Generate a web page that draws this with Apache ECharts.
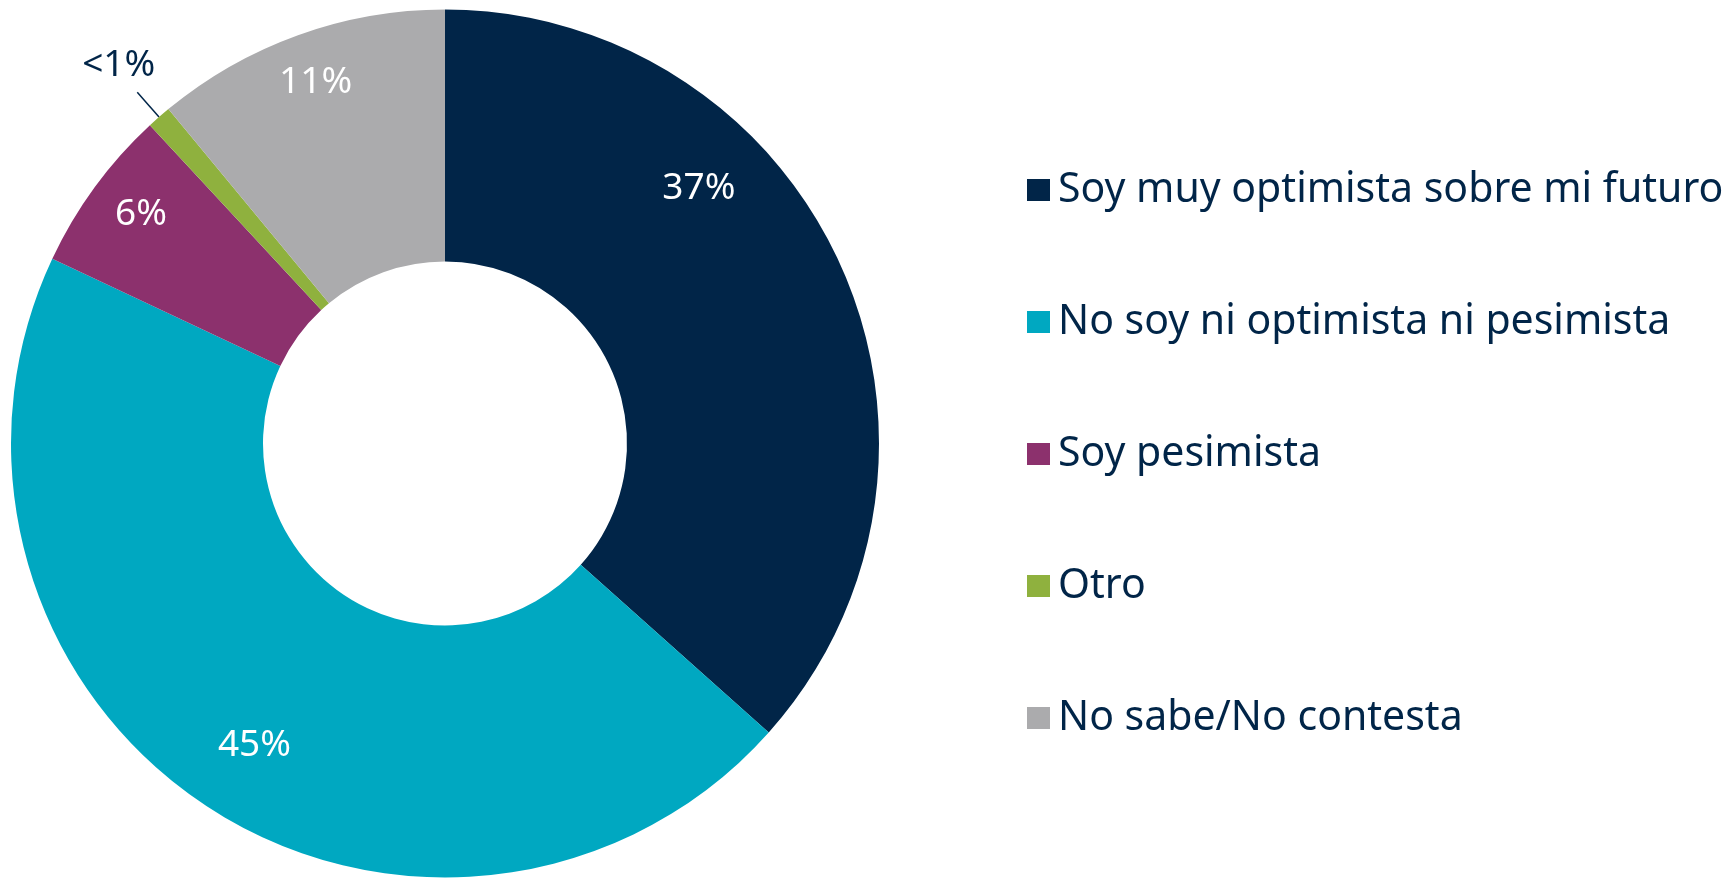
<!DOCTYPE html>
<html>
<head>
<meta charset="utf-8">
<script src="https://cdn.jsdelivr.net/npm/echarts@6/dist/echarts.min.js"></script>
<style>html,body{margin:0;padding:0;background:#fff}#c{width:1734px;height:880px}</style>
</head>
<body>
<div id="c"></div>
<script>
const categories = ['Soy muy optimista sobre mi futuro', 'No soy ni optimista ni pesimista', 'Soy pesimista', 'Otro', 'No sabe/No contesta'];
const values = [36.6, 45.4, 6.1, 0.9, 11.0];
const labelTexts = ['37%', '45%', '6%', '<1%', '11%'];

const colors = ['#012548', '#00A8C1', '#8C316D', '#8FB13E', '#ABABAD'];
const navy = '#012548';
const FONT = 'Noto Sans';
// label nudges (style) from default inside position
const labelOffsets = [[-30, -128], [-19, 43], [-53, -45], null, [-24, -68.5]];

const chart = echarts.init(document.getElementById('c'), null, {renderer: 'canvas'});
const data = categories.map((name, i) => {
  const item = {name: name, value: values[i], itemStyle: {color: colors[i]}};
  if (i === 3) {
    item.label = {position: 'outside', color: navy, distanceToLabelLine: -18, lineHeight: 54};
    item.labelLine = {show: true, length: 33, length2: 0, lineStyle: {color: navy, width: 1.5}};
  }
  return item;
});
chart.setOption({
  animation: false,
  color: colors,
  legend: {
    orient: 'vertical',
    left: 1022,
    top: 164.5,
    itemWidth: 23,
    itemHeight: 22,
    itemGap: 91,
    icon: 'rect',
    data: categories,
    textStyle: {fontFamily: FONT, fontSize: 41, color: navy, padding: [0, 0, 0, 3]}
  },
  series: [{
    type: 'pie',
    center: [445, 443.5],
    radius: [182, 434],
    startAngle: 90,
    clockwise: true,
    avoidLabelOverlap: false,
    data: data,
    itemStyle: {borderWidth: 0},
    label: {
      show: true,
      position: 'inside',
      color: '#ffffff',
      fontFamily: FONT,
      fontSize: 37,
      formatter: p => p.dataIndex === 3 ? labelTexts[p.dataIndex] + '\n ' : labelTexts[p.dataIndex]
    },
    labelLine: {show: false},
    labelLayout: function (p) {
      const o = labelOffsets[p.dataIndex];
      if (!o) return {};
      return {dx: o[0], dy: o[1]};
    },
    emphasis: {disabled: true}
  }]
});
</script>
</body>
</html>
